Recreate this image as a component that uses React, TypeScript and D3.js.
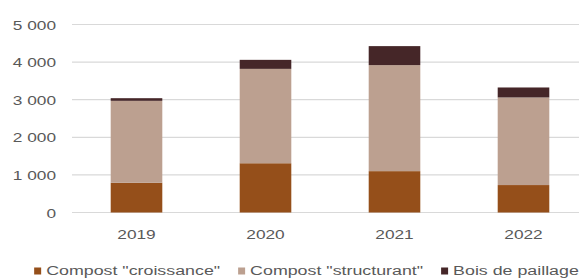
import React, { useEffect, useRef } from 'react'
import * as d3 from 'd3'

const years = ['2019', '2020', '2021', '2022']
const croissance = [790, 1310, 1100, 730]
const structurant = [2180, 2510, 2820, 2330]
const paillage = [70, 240, 505, 265]
const seriesNames = ['Compost "croissance"', 'Compost "structurant"', 'Bois de paillage']
const seriesColors = ['#954f1a', '#bca090', '#452628']
const yTicks = [0, 1000, 2000, 3000, 4000, 5000]

const W = 579
const H = 280
const SX = 1.28 // the source picture is stretched sideways
const FONT = 'Liberation Sans, Arial, sans-serif'

const App = () => {
  const svgRef = useRef(null)

  useEffect(() => {
    const svg = d3.select(svgRef.current)
    svg.selectAll('*').remove()

    const x = d3.scaleBand().domain(years).range([72, 588]).paddingInner(0.6).paddingOuter(0.3)
    const y = d3.scaleLinear().domain([0, 5000]).range([212.5, 24.5])

    const label = (g, tx, ty, text, anchor, sx = SX) => {
      return g
        .append('g')
        .attr('transform', `translate(${tx},${ty}) scale(${sx},1)`)
        .append('text')
        .attr('text-anchor', anchor)
        .attr('font-family', FONT)
        .attr('font-size', 13.5)
        .attr('fill', '#595959')
        .text(text)
    }

    // gridlines + y labels
    const grid = svg.append('g')
    yTicks.forEach((t) => {
      grid
        .append('line')
        .attr('x1', 72)
        .attr('x2', W)
        .attr('y1', y(t))
        .attr('y2', y(t))
        .attr('stroke', '#d9d9d9')
        .attr('stroke-width', 1.2)
      label(grid, 56, y(t) + 5, d3.format(',')(t).replace(',', ' '), 'end')
    })

    // stacked bars
    const rows = years.map((yr, i) => ({ year: yr, a: croissance[i], b: structurant[i], c: paillage[i] }))
    const stack = d3.stack().keys(['a', 'b', 'c'])(rows)
    svg
      .append('g')
      .selectAll('g')
      .data(stack)
      .join('g')
      .attr('fill', (d, i) => seriesColors[i])
      .selectAll('rect')
      .data((d) => d)
      .join('rect')
      .attr('x', (d) => x(d.data.year))
      .attr('width', x.bandwidth())
      .attr('y', (d) => y(d[1]))
      .attr('height', (d) => y(d[0]) - y(d[1]))

    // x labels
    years.forEach((yr) => label(svg, x(yr) + x.bandwidth() / 2, 239, yr, 'middle'))

    // legend
    const legSX = 1.32
    const leg = svg.append('g')
    const items = seriesNames.map((name, i) => {
      const g = leg.append('g')
      g.append('rect').attr('x', 0).attr('y', -7).attr('width', 7).attr('height', 7).attr('fill', seriesColors[i])
      const t = label(g, 12, 0, name, 'start', legSX)
      const w = t.node().getComputedTextLength() * legSX
      return { g, w: 12 + w }
    })
    const gap = 18
    const total = d3.sum(items, (d) => d.w) + gap * (items.length - 1)
    let lx = 306.5 - total / 2
    items.forEach((it) => {
      it.g.attr('transform', `translate(${lx},274.5)`)
      lx += it.w + gap
    })
  }, [])

  return <svg ref={svgRef} width={W} height={H} style={{ display: 'block', position: 'absolute', left: 0, top: 0 }}></svg>
}

export default App
